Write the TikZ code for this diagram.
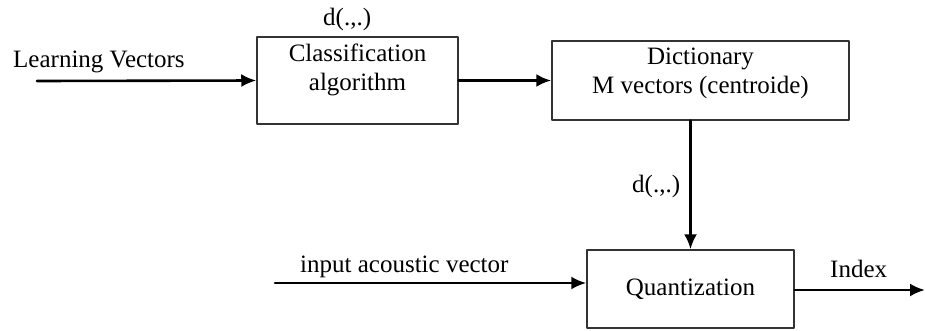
\documentclass[tikz,border=0pt]{standalone}
\usepackage{fontspec}
\setmainfont{Liberation Serif}
\usetikzlibrary{positioning,arrows.meta}
\tikzset{
  blk/.style={draw=black!80,line width=1.5pt,rectangle,inner sep=0pt},
  txt/.style={inner sep=0pt,align=center,font=\fontsize{25}{29}\selectfont},
  lbl/.style={inner sep=0pt,anchor=base west,font=\fontsize{25}{29}\selectfont},
  flow/.style={->,line width=2.6pt}
}
\begin{document}
\begin{tikzpicture}[line cap=round,line join=round,>={Latex[length=15pt,width=13pt]},x=1pt,y=-1pt]
\useasboundingbox (0,0) rectangle (925,330);
% boxes
\node[blk,minimum width=201pt,minimum height=87pt] (class) at (357.5,80.5) {};
\node[blk,minimum width=297pt,minimum height=79pt] (dict) at (700.5,80.5) {};
\node[blk,minimum width=207pt,minimum height=78pt,font=\fontsize{25}{29}\selectfont] (quant) at (690.5,289) {Quantization};
\node[txt,below=7pt of class.north] (classtxt) {Classification\\algorithm};
\node[txt,below=7pt of dict.north] (dicttxt) {Dictionary\\M vectors (centroide)};
% labels
\node[lbl] (learn) at (13,67) {Learning Vectors};
\node[lbl] (dtop) at (323,25) {d(.,.)};
\node[lbl] (dmid) at (632,192) {d(.,.)};
\node[lbl] (acou) at (300,272) {input acoustic vector};
\node[lbl] (idx) at (830,277) {Index};
% connectors
\coordinate (lin) at (37,81);
\coordinate (ain) at (275,283);
\coordinate (out) at (925,290);
\draw[flow] (lin) -- (class.west);
\draw[flow] (class.east) -- (dict.west);
\draw[flow] (quant.north |- dict.south) -- (quant.north);
\draw[flow] (ain) -- (ain -| quant.west);
\draw[flow] (quant.east |- out) -- (out);
\end{tikzpicture}
\end{document}
